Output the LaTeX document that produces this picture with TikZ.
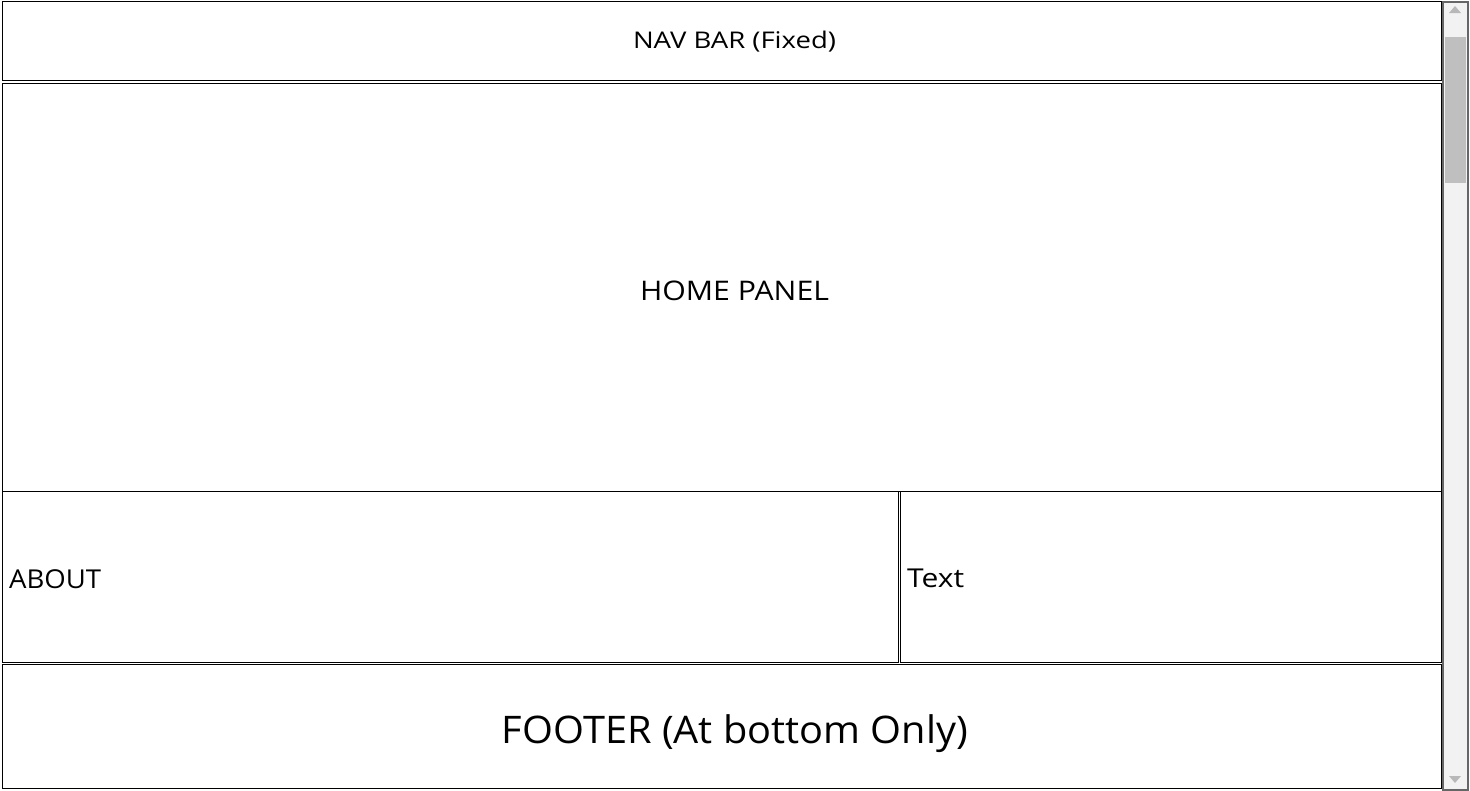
\documentclass[tikz,border=0pt]{standalone}
\usepackage{fontspec}
\usepackage{graphicx}
\setmainfont{Open Sans}
\newcommand{\fitlbl}[3]{\resizebox{#1}{\height}{\fontsize{#2}{#2}\selectfont #3}}
\begin{document}
\begin{tikzpicture}[x=1pt,y=-1pt,
  panel/.style={draw=black,line width=1.1pt,fill=white,inner sep=0pt,anchor=north west},
  lbl/.style={inner sep=0pt,text=black,anchor=base}]
\useasboundingbox (0,0) rectangle (1470,790);
\fill[white] (0,0) rectangle (1470,790);
% panels
\node[panel,minimum width=1439pt,minimum height=79pt] (nav) at (2,1) {};
\node[panel,minimum width=1439pt,minimum height=408pt] (home) at (2,83) {};
\node[panel,minimum width=896pt,minimum height=171pt] (about) at (2,491) {};
\node[panel,minimum width=541pt,minimum height=171pt] (txt) at (900,491) {};
\node[panel,minimum width=1439pt,minimum height=124pt] (foot) at (2,664) {};
% labels
\node[lbl] (navl) at (734.5,48) {\fitlbl{203pt}{23}{NAV BAR (Fixed)}};
\node[lbl] (homel) at (734.5,300) {\fitlbl{189pt}{27}{HOME PANEL}};
\node[lbl,anchor=base west] (aboutl) at (9,588) {\fitlbl{92pt}{26}{ABOUT}};
\node[lbl,anchor=base west] (txtl) at (907,587) {\fitlbl{57pt}{26}{Text}};
\node[lbl] (footl) at (735,743) {\fitlbl{466pt}{38}{FOOTER (At bottom Only)}};
% scrollbar
\node[draw=gray!80!black,line width=2pt,fill=black!5,minimum width=25pt,minimum height=788pt,anchor=north west,inner sep=0pt] (sb) at (1442,1) {};
\node[fill=black!25,minimum width=21pt,minimum height=146pt,anchor=north,inner sep=0pt] (thumb) at (1455,37) {};
\fill[black!28] (1449,13) -- (1455,6) -- (1461,13) -- cycle;
\fill[black!28] (1449,776) -- (1455,783) -- (1461,776) -- cycle;
\end{tikzpicture}
\end{document}
